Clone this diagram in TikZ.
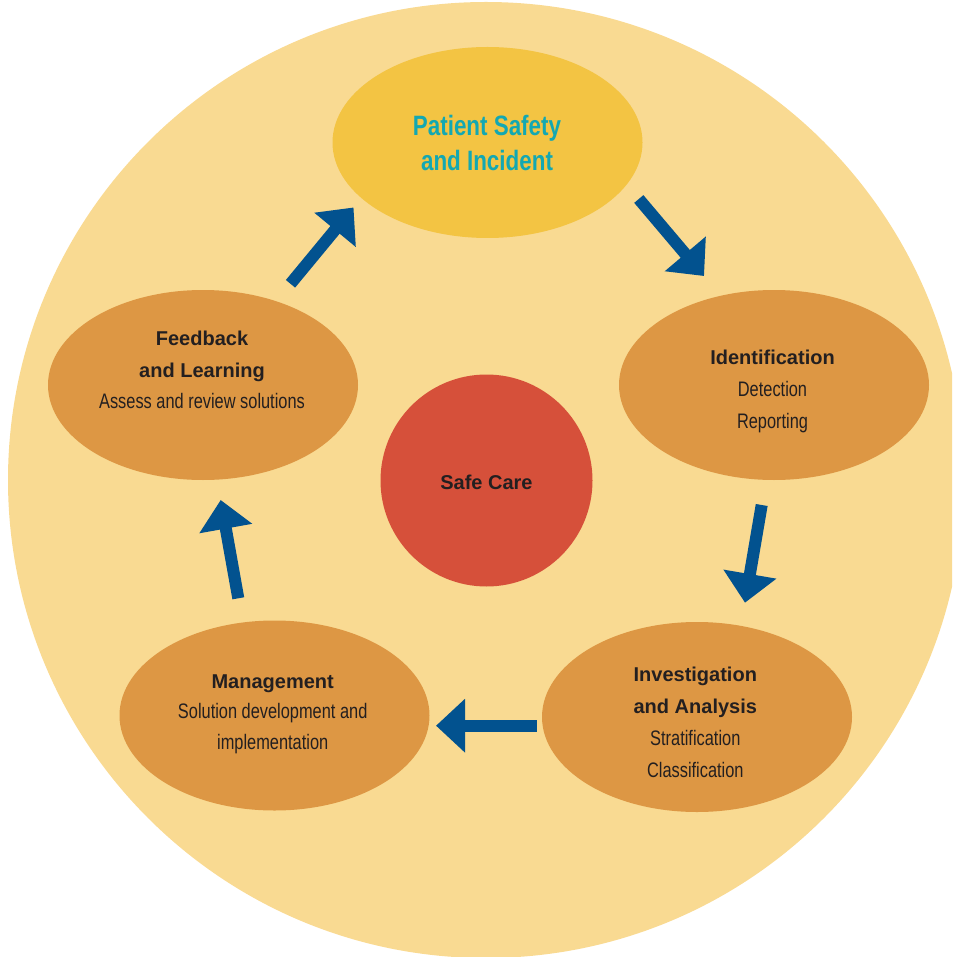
\documentclass[tikz,border=0pt]{standalone}
\usepackage{fontspec}
\setmainfont{Liberation Sans}
\newfontfamily\lightfont[FakeStretch=0.78]{Liberation Sans}
\newfontfamily\titlefont[FakeStretch=0.8]{Liberation Sans}
\usetikzlibrary{arrows.meta,shapes.geometric}
\definecolor{bgpeach}{HTML}{F9DA92}
\definecolor{topyellow}{HTML}{F3C443}
\definecolor{stageorange}{HTML}{DD9744}
\definecolor{carered}{HTML}{D6503A}
\definecolor{flowblue}{HTML}{02528F}
\definecolor{titleteal}{HTML}{13A8B2}
\definecolor{inkdark}{HTML}{231F20}
\newcommand{\lighttxt}[1]{{\lightfont\fontsize{21}{32}\selectfont #1}}
\newcommand{\boldtxt}[1]{{\bfseries\fontsize{20}{32}\selectfont #1}}
\tikzset{
  stage/.style={ellipse, fill=stageorange, minimum width=310pt, minimum height=190pt, inner sep=0pt},
  label/.style={anchor=base, align=center, text=inkdark, inner sep=0pt, font=\fontsize{20}{32}\selectfont},
  flow/.style={draw=flowblue, line width=12pt, -{Triangle[width=52pt,length=29pt]}}
}
\begin{document}
\begin{tikzpicture}[x=1pt,y=-1pt]
\clip (0,0) rectangle (952,957);
\fill[bgpeach] (486,480) circle (478);
% nodes
\node[ellipse, fill=topyellow, minimum width=310pt, minimum height=191pt, inner sep=0pt] (ps) at (487.5,142.5) {};
\node[stage] (fb) at (203,385) {};
\node[stage] (id) at (774,385) {};
\node[stage] (mg) at (274.5,715.5) {};
\node[stage] (ia) at (697,717) {};
\node[circle, fill=carered, minimum size=212pt, inner sep=0pt] (sc) at (486.5,480.5) {};
% texts (anchor base = baseline of the last line)
\node[anchor=base, align=center, inner sep=0pt, text=titleteal, font=\titlefont\bfseries\fontsize{28}{35.5}\selectfont] (pstext) at (487,171) {Patient Safety\\and Incident};
\node[label] (fbtext) at (202,408.3) {\boldtxt{Feedback}\\\boldtxt{and Learning}\\[-1pt]\lighttxt{Assess and review solutions}};
\node[label] (idtext) at (772.5,428) {\boldtxt{Identification}\\\lighttxt{Detection}\\\lighttxt{Reporting}};
\node[label] (sctext) at (486.5,489) {\boldtxt{Safe Care}};
\node[label] (iatext) at (695.3,777.7) {\boldtxt{Investigation}\\\boldtxt{and Analysis}\\\lighttxt{Stratification}\\\lighttxt{Classification}};
\node[label] (mgtext) at (272.7,749.3) {\boldtxt{Management}\\[-1.5pt]\lighttxt{Solution development and}\\[-1.5pt]\lighttxt{implementation}};
% arrows
\coordinate (a1s) at (638.8,199);   \coordinate (a1e) at (704,276);
\coordinate (a2s) at (761.7,505);   \coordinate (a2e) at (745,602.7);
\coordinate (a3s) at (536.7,725.7); \coordinate (a3e) at (436,725.7);
\coordinate (a4s) at (238.3,598.3); \coordinate (a4e) at (220.7,500);
\coordinate (a5s) at (290.5,283.8); \coordinate (a5e) at (353.5,207.5);
\draw[flow] (a1s) -- (a1e);
\draw[flow] (a2s) -- (a2e);
\draw[flow] (a3s) -- (a3e);
\draw[flow] (a4s) -- (a4e);
\draw[flow] (a5s) -- (a5e);
\end{tikzpicture}
\end{document}
